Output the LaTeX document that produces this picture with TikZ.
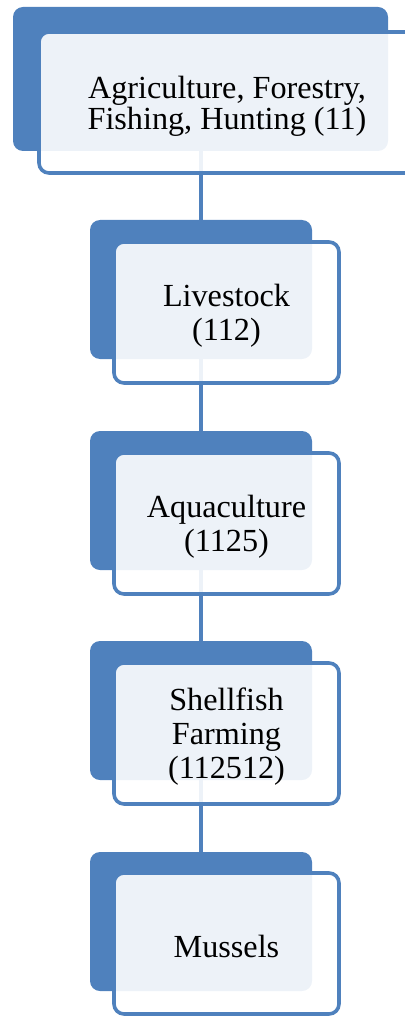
\documentclass[tikz,border=0pt]{standalone}
\usepackage{fontspec}
\setmainfont{Liberation Serif}
\usetikzlibrary{backgrounds}
\definecolor{accent}{HTML}{4F81BD}
\tikzset{
  backbox/.style={rectangle, rounded corners=10pt, fill=accent, draw=none,
    minimum width=#1, inner sep=0pt},
  frontbox/.style={rectangle, rounded corners=10pt, draw=accent, line width=3.6pt,
    fill=white, fill opacity=0.9, inner sep=0pt},
  label text/.style={text=black, inner sep=0pt, align=center, yshift=-3pt,
    font=\fontsize{32.2}{34}\selectfont},
  link/.style={draw=accent, line width=4pt}
}
\begin{document}
\begin{tikzpicture}[x=1pt,y=-1pt]
  \useasboundingbox (0,0) rectangle (404,1016);

  % level 1
  \node[backbox=375pt, minimum height=144pt] (b1) at (200.5,79) {};
  \node[frontbox, minimum width=376pt, minimum height=141pt] (f1) at (227,102.5) {};
  \node[label text, font=\fontsize{32.2}{31.5}\selectfont, yshift=-1pt] (t1) at (f1.center)
    {Agriculture, Forestry,\\Fishing, Hunting (11)};

  % level 2
  \node[backbox=222pt, minimum height=139pt] (b2) at (201,289.5) {};
  \node[frontbox, minimum width=225pt, minimum height=141pt] (f2) at (226.5,312.5) {};
  \node[label text] (t2) at (f2.center) {Livestock\\(112)};

  % level 3
  \node[backbox=222pt, minimum height=139pt] (b3) at (201,500.5) {};
  \node[frontbox, minimum width=225pt, minimum height=141pt] (f3) at (226.5,523.5) {};
  \node[label text] (t3) at (f3.center) {Aquaculture\\(1125)};

  % level 4
  \node[backbox=222pt, minimum height=139pt] (b4) at (201,710.5) {};
  \node[frontbox, minimum width=225pt, minimum height=141pt] (f4) at (226.5,733.5) {};
  \node[label text] (t4) at (f4.center) {Shellfish\\Farming\\(112512)};

  % level 5
  \node[backbox=222pt, minimum height=139pt] (b5) at (201,921.5) {};
  \node[frontbox, minimum width=225pt, minimum height=141pt] (f5) at (226.5,943.5) {};
  \node[label text] (t5) at (f5.center) {Mussels};

  % hierarchy links behind the boxes
  \begin{scope}[on background layer]
    \draw[link] (b1.south) -- (b1.south |- b2.north);
    \draw[link] (b2.south) -- (b2.south |- b3.north);
    \draw[link] (b3.south) -- (b3.south |- b4.north);
    \draw[link] (b4.south) -- (b4.south |- b5.north);
  \end{scope}
\end{tikzpicture}
\end{document}
